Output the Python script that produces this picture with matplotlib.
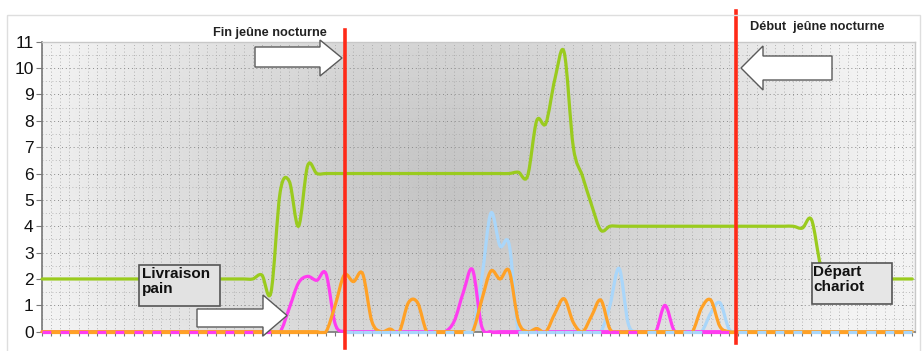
import numpy as np
import matplotlib
matplotlib.use("Agg")
import matplotlib.pyplot as plt
from matplotlib.path import Path
from matplotlib.patches import PathPatch, Polygon, Rectangle
from matplotlib.collections import LineCollection

plt.rcParams["font.family"] = ["Liberation Sans", "DejaVu Sans"]

# --- data (one point per tick, 96 ticks) ---
green = [2.0] * 24 + [2.15, 1.5, 5.3, 5.7, 4.0, 6.3, 6.0] + [6.0] * 21 + \
    [6.05, 5.9, 8.0, 7.9, 9.6, 10.6, 7.0, 5.9, 4.8, 3.85, 4.0] + [4.0] * 20 + \
    [3.93, 4.25, 2.5, 1.8] + [2.0] * 9

pink = [0.0] * 27 + [0.9, 1.85, 2.1, 1.95, 2.2, 0.3] + [0.0] * 12 + \
    [0.4, 1.5, 2.35, 0.2] + [0.0] * 19 + [1.0, 0.05] + [0.0] * 6

orange = [0.0] * 32 + [1.0, 2.15, 1.9, 2.2, 0.4, 0.0, 0.1, 0.0, 1.1, 1.1] + \
    [0.0] * 6 + [1.2, 2.3, 2.0, 2.3, 0.4, 0.0, 0.12, 0.0, 0.7, 1.25, 0.35, 0.0,
                 0.6, 1.2, 0.1] + [0.0] * 9 + [0.9, 1.2, 0.2] + [0.0] * 21

blue_start = 33
blue = [0.0] * 15 + [2.0, 4.5, 3.25, 3.3, 0.0] + [0.0] * 9 + [1.0, 2.4, 0.3] + \
    [0.0] * 8 + [0.7, 1.1, 0.1] + [0.0] * 20

events = [33.1, 75.8]
event_labels = ["Fin jeûne nocturne", "Début  jeûne nocturne"]
notes = ["Livraison\npain", "Départ\nchariot"]

C_GREEN = "#9ACB1E"
C_PINK = "#FF3CF0"
C_ORANGE = "#FFA126"
C_BLUE = "#A9D6FA"
C_RED = "#FF2A18"

W, H = 922, 351


def smooth_path(x, y):
    # Catmull-Rom style bezier, like a spreadsheet "smoothed line"
    verts = [(x[0], y[0])]
    codes = [Path.MOVETO]
    n = len(x)
    for k in range(n - 1):
        p0 = k - 1 if k > 0 else k
        p3 = k + 2 if k + 2 < n else k + 1
        c1 = (x[k] + (x[k + 1] - x[p0]) / 6, y[k] + (y[k + 1] - y[p0]) / 6)
        c2 = (x[k + 1] - (x[p3] - x[k]) / 6, y[k + 1] - (y[p3] - y[k]) / 6)
        verts += [c1, c2, (x[k + 1], y[k + 1])]
        codes += [Path.CURVE4] * 3
    return Path(verts, codes)


fig = plt.figure(figsize=(W / 100, H / 100), dpi=100)
x0, x1, y0, y1 = 42, 915, 41.7, 331.7
ax = fig.add_axes([x0 / W, 1 - y1 / H, (x1 - x0) / W, (y1 - y0) / H])

n = len(green)
xmax = 95.3
ax.set_xlim(0, xmax)
ax.set_ylim(0, 11)

# shaded background
gx, gy = np.meshgrid(np.linspace(0, 1, 300), np.linspace(0, 1, 120))
r = np.sqrt(((gx - 0.47) / 0.5) ** 2 + ((gy - 0.5) / 1.1) ** 2)
shade = 0.77 + 0.18 * np.clip(r, 0, 1) ** 1.3
ax.imshow(shade, cmap="gray", vmin=0, vmax=1, extent=[0, xmax, 0, 11],
          aspect="auto", origin="lower", zorder=0, interpolation="bilinear")

ax.set_yticks(range(12))
ax.set_yticks(np.arange(0.5, 11, 0.5), minor=True)
ax.set_xticks(range(n))
ax.tick_params(axis="x", length=3, color="#777777", labelbottom=False)
ax.tick_params(axis="y", length=4, color="#777777", labelsize=12.5,
               labelcolor="#111111", pad=2)
ax.tick_params(axis="y", which="minor", length=0)
ax.grid(axis="y", which="major", linestyle=(0, (1, 3)), color="#8a8a8a", lw=0.7)
ax.grid(axis="y", which="minor", linestyle=(0, (1, 3)), color="#aaaaaa", lw=0.6)
ax.grid(axis="x", which="major", linestyle=(0, (1, 3)), color="#a0a0a0", lw=0.6)
for s in ["left", "bottom"]:
    ax.spines[s].set_color("#777777")
    ax.spines[s].set_linewidth(1.2)
for s in ["top", "right"]:
    ax.spines[s].set_color("#c8c8c8")
    ax.spines[s].set_linewidth(1.0)

# let the zero lines sit on the axis without showing spline undershoot
clip = Rectangle((-1, -0.065), xmax + 2, 12, transform=ax.transData)

xs = np.arange(n)
series = [
    ("blue", np.arange(blue_start, blue_start + len(blue)), np.array(blue), C_BLUE),
    ("pink", np.arange(len(pink)), np.array(pink), C_PINK),
    ("orange", xs, np.array(orange), C_ORANGE),
    ("green", xs, np.array(green), C_GREEN),
]
for z, (name, sx, sy, c) in enumerate(series):
    p = PathPatch(smooth_path(sx, sy), fill=False, edgecolor=c, lw=2.3,
                  capstyle="round", joinstyle="round", zorder=3 + z)
    ax.add_patch(p)
    p.set_clip_path(clip)

# overlapping zero lines show as alternating dashes
segs, cols = [], []
for j in range(n - 1):
    cand = []
    for name, sx, sy, c in series[:3]:
        if sx[0] <= j and j + 1 <= sx[-1]:
            k = j - sx[0]
            if sy[k] == 0 and sy[k + 1] == 0:
                cand.append((name, c))
    if not cand:
        continue
    names = [a for a, _ in cand]
    if "orange" in names and (j % 2 == 1 or len(names) == 1):
        col = C_ORANGE
    else:
        col = [c for a, c in cand if a != "orange"][0]
    segs.append([(j, 0), (j + 1, 0)])
    cols.append(col)
ax.add_collection(LineCollection(segs, colors=cols, lw=2.3, zorder=7,
                                 clip_on=False, capstyle="butt"))

# event markers
ax.axvline(events[0], ymin=-0.056, ymax=1.04, color=C_RED, lw=2.6,
           clip_on=False, zorder=8)
ax.axvline(events[1], ymin=-0.039, ymax=1.106, color=C_RED, lw=2.6,
           clip_on=False, zorder=8)

# overlay in pixel coordinates for callouts
ov = fig.add_axes([0, 0, 1, 1], zorder=10)
ov.set_xlim(0, W)
ov.set_ylim(H, 0)
ov.axis("off")

ov.add_patch(Rectangle((7, 15), 913, 340, fill=False, edgecolor="#dedede",
                       lw=1.0))


def block_arrow(xl, xh, tip, yb0, yb1, yh0, yh1, direction):
    ym = (yh0 + yh1) / 2
    if direction > 0:
        pts = [(xl, yb0), (xh, yb0), (xh, yh0), (tip, ym), (xh, yh1),
               (xh, yb1), (xl, yb1)]
    else:
        pts = [(xl, yb0), (xh, yb0), (xh, yb1), (xl, yb1), (xl, yh1),
               (tip, ym), (xl, yh0)]
    ov.add_patch(Polygon(pts, closed=True, facecolor="white",
                         edgecolor="#5a5a5a", lw=1.0))


block_arrow(255, 320, 342, 47, 67, 40, 76, 1)
block_arrow(763, 832, 741, 56, 80, 46, 90, -1)
block_arrow(197, 263, 287, 309, 327, 295, 336, 1)

ov.text(213, 33, event_labels[0], fontsize=9.2, fontweight="bold",
        ha="left", va="center", color="#222222")
ov.text(750, 27, event_labels[1], fontsize=9.2, fontweight="bold",
        ha="left", va="center", color="#222222")

ov.add_patch(Rectangle((139, 265), 81, 41, facecolor="#e2e2e2",
                       edgecolor="#555555", lw=1.2))
ov.text(142, 267, notes[0], fontsize=11, fontweight="bold", ha="left",
        va="top", linespacing=1.1, color="#111111")
ov.add_patch(Rectangle((812, 263), 80, 41, facecolor="#e6e6e6",
                       edgecolor="#555555", lw=1.2))
ov.text(813, 265, notes[1], fontsize=11, fontweight="bold", ha="left",
        va="top", linespacing=1.1, color="#111111")

fig.savefig("out.png", dpi=100)
